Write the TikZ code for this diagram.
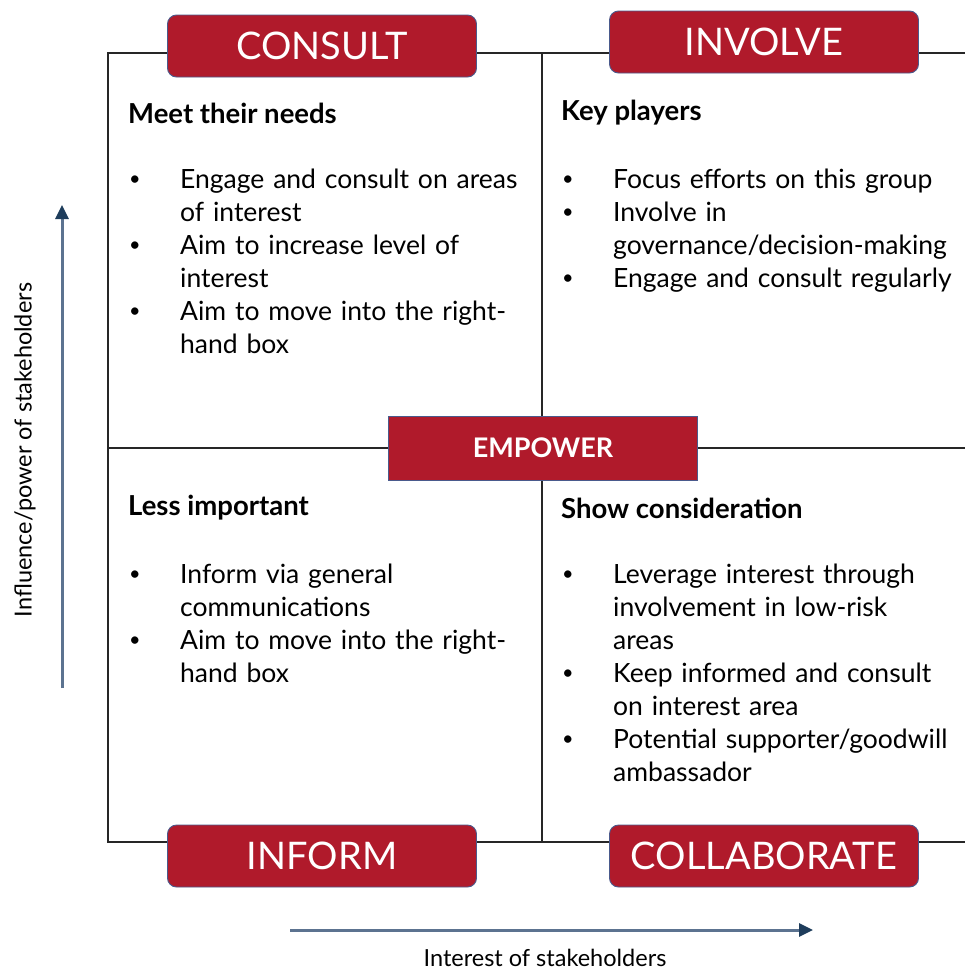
\documentclass[tikz,border=0pt]{standalone}
\usepackage{fontspec}
\setmainfont{Lato}
\usepackage{xcolor}
\usetikzlibrary{arrows.meta}
\usetikzlibrary{positioning}

\definecolor{boxred}{HTML}{B01A2B}
\definecolor{boxedge}{HTML}{4A5A8C}
\definecolor{axisshaft}{HTML}{5C7390}
\definecolor{axishead}{HTML}{1E3D5C}

% bullet line with hanging indent
\newcommand{\itm}[1]{\par\hangindent=52pt\hangafter=1\noindent
  \makebox[52pt][l]{\hspace{1pt}\raisebox{0.1em}{\scalebox{0.75}{\textbullet}}}#1\par}

\tikzset{
  grid/.style={line width=1.4pt, black!85},
  tag/.style={fill=boxred, draw=boxedge, line width=0.9pt, rounded corners=9pt,
    text=white, minimum width=309pt, minimum height=62pt, inner sep=0pt,
    font=\fontsize{38}{38}\selectfont},
  midtag/.style={tag, rounded corners=0pt, minimum width=309pt, minimum height=64pt,
    font=\fontsize{27}{27}\selectfont\bfseries},
  head/.style={anchor=west, inner sep=0pt, font=\fontsize{27.5}{30}\selectfont\bfseries},
  items/.style={anchor=north west, inner sep=0pt, text width=420pt, align=left,
    font=\fontsize{26.5}{33}\selectfont},
  axis/.style={line width=3pt, axisshaft, -{Triangle[length=14pt,width=13pt,color=axishead]}},
  axislabel/.style={inner sep=0pt, font=\fontsize{23.5}{26}\selectfont}
}

\begin{document}
\begin{tikzpicture}[x=1pt,y=-1pt]
\useasboundingbox (0,0) rectangle (965,972);

% quadrant frame
\coordinate (tl) at (108,53);
\coordinate (tr) at (965,53);
\coordinate (bl) at (108,842);
\coordinate (br) at (965,842);
\coordinate (ml) at (108,448);
\coordinate (mr) at (965,448);
\coordinate (mt) at (542,53);
\coordinate (mb) at (542,842);
\draw[grid] (tr)--(tl)--(bl)--(br);
\draw[grid] (mt)--(mb);
\draw[grid] (ml)--(mr);

% level tags
\node[tag] (consult) at (322,46) {CONSULT};
\node[tag] (involve) at (764,42) {INVOLVE};
\node[tag] (inform) at (322,856) {INFORM};
\node[tag] (collab) at (764,856) {COLLABORATE};
\node[midtag] (empower) at (543,448) {EMPOWER};

% top left
\node[head] (needs) at (128,113) {Meet their needs};
\node[items] (needslist) at (128,155) {%
\itm{Engage and consult on areas\newline of interest}
\itm{Aim to increase level of\newline interest}
\itm{Aim to move into the right-\newline hand box}};

% top right
\node[head] (keyp) at (561,113) {Key players};
\node[items] (keyplist) at (561,155) {%
\itm{Focus efforts on this group}
\itm{Involve in\newline governance/decision-making}
\itm{Engage and consult regularly}};

% bottom left
\node[head] (lessimp) at (128,508) {Less important};
\node[items] (lessimplist) at (128,550) {%
\itm{Inform via general\newline communications}
\itm{Aim to move into the right-\newline hand box}};

% bottom right
\node[head] (showc) at (561,508) {Show consideration};
\node[items] (showclist) at (561,550) {%
\itm{Leverage interest through\newline involvement in low-risk\newline areas}
\itm{Keep informed and consult\newline on interest area}
\itm{Potential supporter/goodwill\newline ambassador}};

% axes
\coordinate (ylow) at (62,688);
\coordinate (yhigh) at (62,205);
\coordinate (xlow) at (290,930);
\coordinate (xhigh) at (813,930);
\draw[axis] (ylow)--(yhigh);
\draw[axis] (xlow)--(xhigh);
\node[axislabel, rotate=90] (power) at (25,450) {Influence/power of stakeholders};
\node[axislabel] (interest) at (545,958) {Interest of stakeholders};
\end{tikzpicture}
\end{document}
